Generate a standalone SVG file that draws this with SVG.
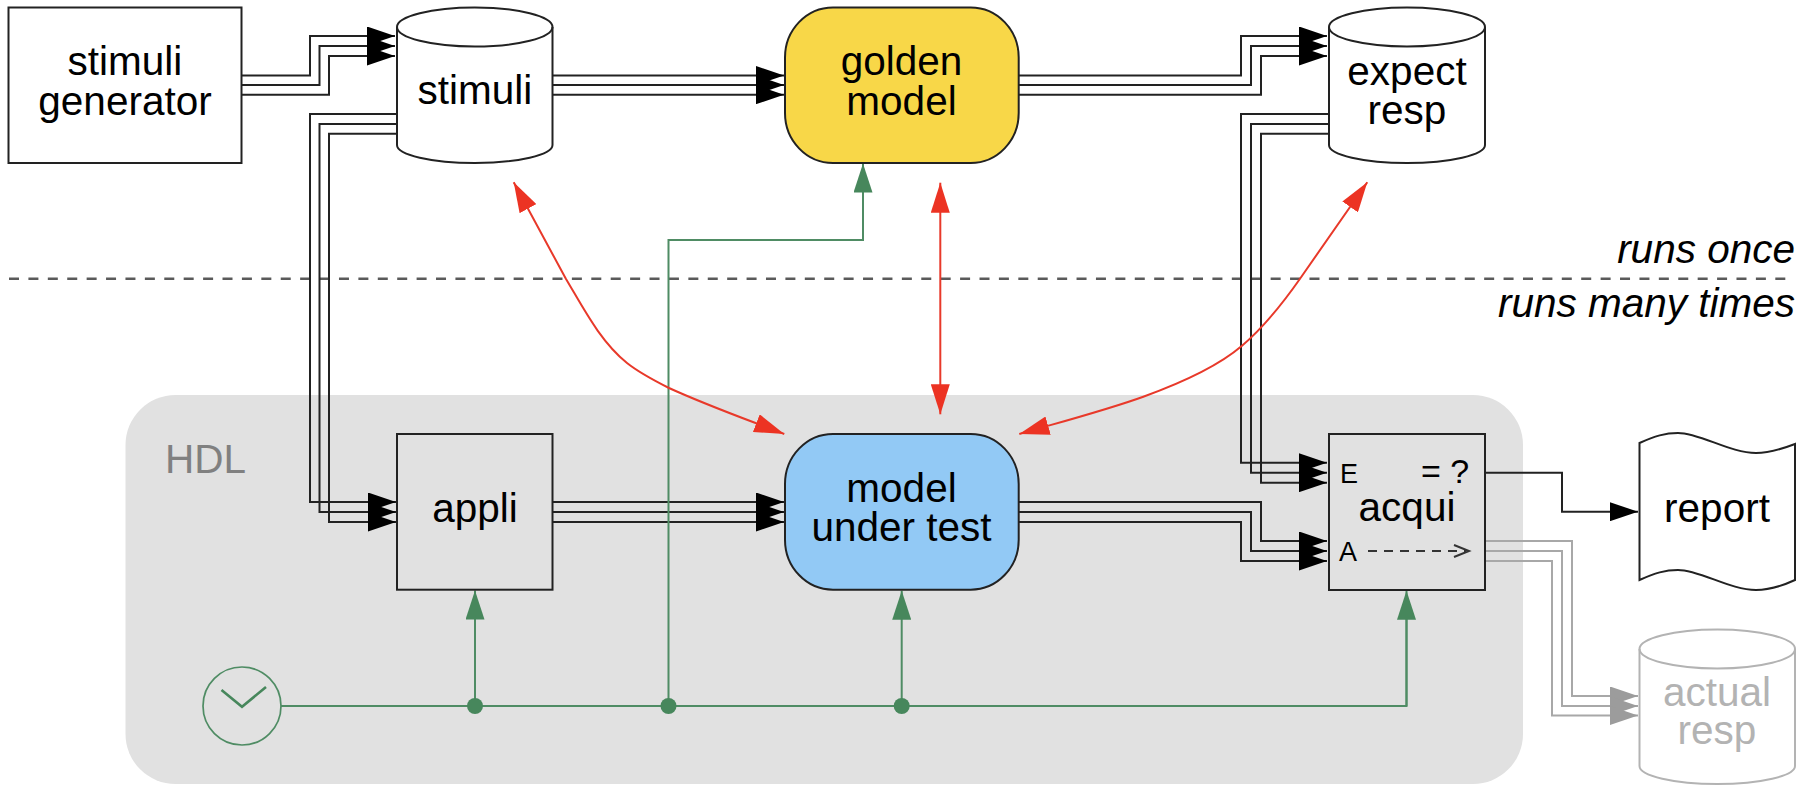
<svg xmlns="http://www.w3.org/2000/svg" width="1812" height="800" viewBox="0 0 1812 800">
<style>
text{font-family:"Liberation Sans",Arial,sans-serif;font-size:40.5px;fill:#000;text-anchor:middle}
.box{fill:#fff;stroke:#222;stroke-width:2}
.none{fill:none}
.b{fill:none;stroke:#222;stroke-width:2;marker-end:url(#hb)}
.bn{fill:none;stroke:#222;stroke-width:2}
.g{fill:none;stroke:#a8a8a8;stroke-width:2;marker-end:url(#hg)}
.gr{fill:none;stroke:#4f8c64;stroke-width:2}
.gra{marker-end:url(#hn)}
.r{fill:none;stroke:#e8392a;stroke-width:2;marker-start:url(#hr);marker-end:url(#hr)}
.dot{fill:#47875c}
.it{font-style:italic;text-anchor:end}
.grey{fill:#b3b3b3}
</style>
<defs>
<marker id="hb" markerUnits="userSpaceOnUse" markerWidth="28" markerHeight="19" refX="28" refY="9.5" orient="auto"><path d="M0,0L28,9.5L0,19Z" fill="#000"/></marker>
<marker id="hg" markerUnits="userSpaceOnUse" markerWidth="28" markerHeight="19" refX="28" refY="9.5" orient="auto"><path d="M0,0L28,9.5L0,19Z" fill="#9c9c9c"/></marker>
<marker id="hn" markerUnits="userSpaceOnUse" markerWidth="29" markerHeight="19" refX="29" refY="9.5" orient="auto"><path d="M0,0L29,9.5L0,19Z" fill="#47875c"/></marker>
<marker id="hr" markerUnits="userSpaceOnUse" markerWidth="30" markerHeight="19" refX="30" refY="9.5" orient="auto-start-reverse"><path d="M0,0L30,9.5L0,19Z" fill="#ec3323"/></marker>
</defs>
<rect id="hdl" x="125.5" y="395" width="1397.5" height="389" rx="50" ry="50" fill="#e1e1e1"/>
<text x="165" y="473" style="text-anchor:start;fill:#808080">HDL</text>
<path id="divider" d="M9,278.7H1787" fill="none" stroke="#5a5a5a" stroke-width="2.5" stroke-dasharray="10 9.41"/>
<g id="connectors">
<path class="b" d="M241,75.5H310V36H395"/>
<path class="b" d="M241,85H319.5V46H395"/>
<path class="b" d="M241,94.7H329V56H395"/>
<path class="bn" d="M397,114H310V502H368"/>
<path class="bn" d="M397,124H319.5V512H368"/>
<path class="bn" d="M397,133.7H329V522H368"/>
<path class="b" d="M368,502H396"/>
<path class="b" d="M368,512H396"/>
<path class="b" d="M368,522H396"/>
<path class="b" d="M552,75.5H784"/>
<path class="b" d="M552,85H784"/>
<path class="b" d="M552,94.7H784"/>
<path class="b" d="M552,502H784"/>
<path class="b" d="M552,512H784"/>
<path class="b" d="M552,522H784"/>
<path class="b" d="M1019,75.5H1241V36H1327"/>
<path class="b" d="M1019,85H1251V46H1327"/>
<path class="b" d="M1019,94.7H1261V56H1327"/>
<path class="b" d="M1329,114H1241V462.7H1327"/>
<path class="b" d="M1329,124H1251V472.7H1327"/>
<path class="b" d="M1329,133.7H1261V482.7H1327"/>
<path class="b" d="M1019,502H1261V541H1327"/>
<path class="b" d="M1019,512H1251V551H1327"/>
<path class="b" d="M1019,522H1241V561H1327"/>
<path class="b" d="M1485,472.7H1562V511.7H1638"/>
<path class="g" d="M1485,541H1572V696H1638"/>
<path class="g" d="M1485,551H1562V706H1638"/>
<path class="g" d="M1485,561H1552V715.5H1638"/>
<path class="gr" d="M281,706H1406.5V619"/>
<path class="gr gra" d="M475,706V590.5"/>
<path class="gr gra" d="M668.5,706V240H863V163.5"/>
<path class="gr gra" d="M901.7,706V590.7"/>
<path class="gr gra" d="M1406.5,706V590.7"/>
<circle class="dot" cx="475" cy="706" r="8"/>
<circle class="dot" cx="668.5" cy="706" r="8"/>
<circle class="dot" cx="901.7" cy="706" r="8"/>
<path class="r" d="M513.7,182.3L566,279C584,309 600,341 627,363C639.5,373 654.5,380.7 669,388C706,405 747,419.6 784.3,434"/>
<path class="r" d="M940.3,182.7V414.3"/>
<path class="r" d="M1367.3,182.3L1300,278.7C1283,303 1264.5,326.5 1241.7,346C1215,368.8 1176.2,384.8 1143.3,396.7C1105.7,410.3 1057,423 1019.3,434"/>
</g>
<g id="stimuli-generator"><rect class="box" x="8.5" y="7.5" width="233" height="155.5"/><text x="125" y="75">stimuli</text><text x="125" y="115">generator</text></g>
<g id="stimuli"><path class="box" d="M397,27A77.75,19.5 0 0 1 552.5,27V145A77.75,18 0 0 1 397,145Z"/><path class="none" stroke="#222" stroke-width="2" d="M397,27A77.75,19.5 0 0 0 552.5,27"/><text x="475" y="104">stimuli</text></g>
<g id="golden-model"><rect x="785" y="7.5" width="233.7" height="155.5" rx="48" ry="50" fill="#f8d748" stroke="#222" stroke-width="2"/><text x="901.5" y="75">golden</text><text x="901.5" y="114.5">model</text></g>
<g id="expect-resp"><path class="box" d="M1329,27A78,19.5 0 0 1 1485,27V145A78,18 0 0 1 1329,145Z"/><path class="none" stroke="#222" stroke-width="2" d="M1329,27A78,19.5 0 0 0 1485,27"/><text x="1407" y="84.5">expect</text><text x="1407" y="123.5">resp</text></g>
<g id="appli"><rect x="397" y="434" width="155.5" height="155.7" fill="none" stroke="#222" stroke-width="2"/><text x="475" y="522">appli</text></g>
<g id="model-under-test"><rect x="785" y="434" width="233.7" height="155.7" rx="48" ry="50" fill="#92c9f5" stroke="#222" stroke-width="2"/><text x="901.5" y="502.3">model</text><text x="901.5" y="541">under test</text></g>
<g id="acqui"><rect x="1329" y="434" width="156" height="156" fill="none" stroke="#222" stroke-width="2"/>
<text x="1407" y="521">acqui</text>
<text x="1340" y="482.5" style="font-size:27px;text-anchor:start">E</text>
<text x="1421" y="482.5" style="font-size:34px;text-anchor:start">= ?</text>
<text x="1339" y="561" style="font-size:27px;text-anchor:start">A</text>
<path d="M1368,551H1466" fill="none" stroke="#333" stroke-width="2" stroke-dasharray="9 7"/>
<path d="M1454,545L1469,551L1454,557" fill="none" stroke="#333" stroke-width="2"/></g>
<g id="report"><path class="box" d="M1639.5,443C1655,436 1665,433 1678,433C1700,433 1730,453 1756,453C1770,453 1782,449 1795,444V580C1782,586 1770,590 1756,590C1730,590 1700,570 1678,570C1665,570 1655,573 1639.5,580Z"/><text x="1717" y="521.5">report</text></g>
<g id="actual-resp"><path d="M1639.5,649A77.75,19.5 0 0 1 1795,649V766A77.75,18 0 0 1 1639.5,766Z" fill="#fff" stroke="#b3b3b3" stroke-width="2"/><path class="none" stroke="#b3b3b3" stroke-width="2" d="M1639.5,649A77.75,19.5 0 0 0 1795,649"/><text class="grey" x="1717" y="706">actual</text><text class="grey" x="1717" y="744">resp</text></g>
<g id="clock"><circle cx="242" cy="706" r="39" fill="none" stroke="#4f8c64" stroke-width="1.7"/><path d="M221.5,690L242,706.7L266,687" fill="none" stroke="#47875c" stroke-width="2.6"/></g>
<text class="it" x="1795" y="263">runs once</text>
<text class="it" x="1795" y="316.7">runs many times</text>
</svg>
